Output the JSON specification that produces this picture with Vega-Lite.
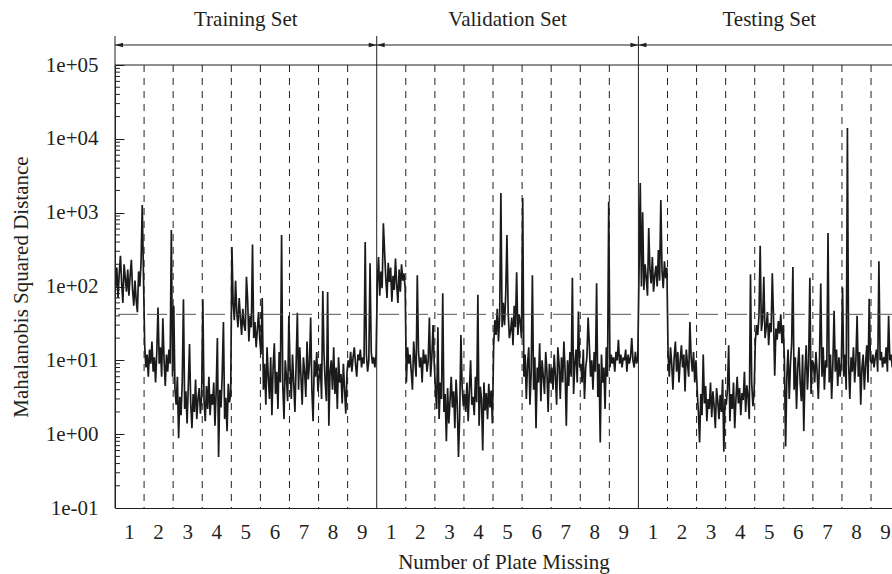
{
"$schema": "https://vega.github.io/schema/vega-lite/v6.json",
"width": 777, "height": 443,
"autosize": {"type": "none"},
"padding": {"left": 115, "top": 65, "right": 0, "bottom": 66},
"background": "white",
"config": {"view": {"stroke": null}, "font": "Liberation Serif", "axis": {"grid": false, "labelOverlap": false, "labelBound": false, "labelFlush": false}},
"datasets": {
"series": [
{"i":0,"v":95},{"i":1,"v":180},{"i":2,"v":70},{"i":3,"v":150},{"i":4,"v":260},{"i":5,"v":110},{"i":6,"v":60},{"i":7,"v":200},{"i":8,"v":130},{"i":9,"v":85},{"i":10,"v":170},{"i":11,"v":75},{"i":12,"v":140},{"i":13,"v":230},{"i":14,"v":90},{"i":15,"v":55},{"i":16,"v":120},{"i":17,"v":65},{"i":18,"v":45},{"i":19,"v":160},{"i":20,"v":100},{"i":21,"v":210},{"i":22,"v":1270},{"i":23,"v":140},
{"i":24,"v":16},{"i":25,"v":8},{"i":26,"v":12},{"i":27,"v":6},{"i":28,"v":14},{"i":29,"v":9},{"i":30,"v":18},{"i":31,"v":7},{"i":32,"v":11},{"i":33,"v":5},{"i":34,"v":13},{"i":35,"v":52},{"i":36,"v":9},{"i":37,"v":15},{"i":38,"v":6},{"i":39,"v":37},{"i":40,"v":10},{"i":41,"v":4.5},{"i":42,"v":12},{"i":43,"v":7},{"i":44,"v":14},{"i":45,"v":9},{"i":46,"v":581},{"i":47,"v":6},
{"i":48,"v":55},{"i":49,"v":4},{"i":50,"v":2.5},{"i":51,"v":6},{"i":52,"v":0.88},{"i":53,"v":3.2},{"i":54,"v":1.8},{"i":55,"v":5},{"i":56,"v":67},{"i":57,"v":2.2},{"i":58,"v":3.8},{"i":59,"v":1.4},{"i":60,"v":4.5},{"i":61,"v":16.6},{"i":62,"v":2.6},{"i":63,"v":1.2},{"i":64,"v":3.5},{"i":65,"v":2},{"i":66,"v":5.5},{"i":67,"v":1.6},{"i":68,"v":3},{"i":69,"v":4.2},{"i":70,"v":1.9},{"i":71,"v":3.3},
{"i":72,"v":67},{"i":73,"v":2.8},{"i":74,"v":1.5},{"i":75,"v":4.5},{"i":76,"v":2.2},{"i":77,"v":6},{"i":78,"v":1.8},{"i":79,"v":3.5},{"i":80,"v":2.5},{"i":81,"v":5},{"i":82,"v":1.3},{"i":83,"v":3.8},{"i":84,"v":20},{"i":85,"v":0.49},{"i":86,"v":4},{"i":87,"v":2.3},{"i":88,"v":6.5},{"i":89,"v":33},{"i":90,"v":1.6},{"i":91,"v":3.1},{"i":92,"v":1.1},{"i":93,"v":4.8},{"i":94,"v":2.7},{"i":95,"v":3.6},
{"i":96,"v":342},{"i":97,"v":60},{"i":98,"v":35},{"i":99,"v":120},{"i":100,"v":45},{"i":101,"v":28},{"i":102,"v":70},{"i":103,"v":38},{"i":104,"v":22},{"i":105,"v":50},{"i":106,"v":30},{"i":107,"v":25},{"i":108,"v":135},{"i":109,"v":65},{"i":110,"v":18},{"i":111,"v":40},{"i":112,"v":28},{"i":113,"v":370},{"i":114,"v":20},{"i":115,"v":33},{"i":116,"v":15},{"i":117,"v":26},{"i":118,"v":45},{"i":119,"v":19},
{"i":120,"v":12},{"i":121,"v":70},{"i":122,"v":4},{"i":123,"v":9},{"i":124,"v":2.5},{"i":125,"v":15},{"i":126,"v":6},{"i":127,"v":3},{"i":128,"v":11},{"i":129,"v":1.8},{"i":130,"v":8},{"i":131,"v":17},{"i":132,"v":3.5},{"i":133,"v":7},{"i":134,"v":2.2},{"i":135,"v":13},{"i":136,"v":5},{"i":137,"v":500},{"i":138,"v":4.5},{"i":139,"v":1.6},{"i":140,"v":10},{"i":141,"v":6},{"i":142,"v":2.8},{"i":143,"v":40},
{"i":144,"v":8},{"i":145,"v":3},{"i":146,"v":12},{"i":147,"v":5},{"i":148,"v":2},{"i":149,"v":9},{"i":150,"v":44},{"i":151,"v":4},{"i":152,"v":15},{"i":153,"v":6},{"i":154,"v":2.5},{"i":155,"v":11},{"i":156,"v":7},{"i":157,"v":3.2},{"i":158,"v":18},{"i":159,"v":5.5},{"i":160,"v":9},{"i":161,"v":38},{"i":162,"v":4},{"i":163,"v":1.5},{"i":164,"v":10},{"i":165,"v":6},{"i":166,"v":13},{"i":167,"v":3.8},
{"i":168,"v":6},{"i":169,"v":9},{"i":170,"v":3},{"i":171,"v":87},{"i":172,"v":12},{"i":173,"v":5},{"i":174,"v":2.8},{"i":175,"v":84},{"i":176,"v":1.3},{"i":177,"v":7},{"i":178,"v":10},{"i":179,"v":4},{"i":180,"v":15},{"i":181,"v":3.5},{"i":182,"v":8},{"i":183,"v":2.2},{"i":184,"v":11},{"i":185,"v":5},{"i":186,"v":6.5},{"i":187,"v":2.6},{"i":188,"v":9},{"i":189,"v":4},{"i":190,"v":1.9},{"i":191,"v":7},
{"i":192,"v":10},{"i":193,"v":8},{"i":194,"v":13},{"i":195,"v":7},{"i":196,"v":11},{"i":197,"v":15},{"i":198,"v":9},{"i":199,"v":6},{"i":200,"v":12},{"i":201,"v":10},{"i":202,"v":14},{"i":203,"v":8},{"i":204,"v":11},{"i":205,"v":9},{"i":206,"v":400},{"i":207,"v":12},{"i":208,"v":7},{"i":209,"v":10},{"i":210,"v":207},{"i":211,"v":13},{"i":212,"v":9},{"i":213,"v":11},{"i":214,"v":8},{"i":215,"v":12},
{"i":216,"v":110},{"i":217,"v":250},{"i":218,"v":75},{"i":219,"v":160},{"i":220,"v":95},{"i":221,"v":720},{"i":222,"v":300},{"i":223,"v":130},{"i":224,"v":70},{"i":225,"v":210},{"i":226,"v":115},{"i":227,"v":180},{"i":228,"v":62},{"i":229,"v":140},{"i":230,"v":90},{"i":231,"v":240},{"i":232,"v":105},{"i":233,"v":60},{"i":234,"v":170},{"i":235,"v":85},{"i":236,"v":200},{"i":237,"v":120},{"i":238,"v":150},{"i":239,"v":95},
{"i":240,"v":5},{"i":241,"v":15},{"i":242,"v":9},{"i":243,"v":12},{"i":244,"v":7},{"i":245,"v":4},{"i":246,"v":18},{"i":247,"v":10},{"i":248,"v":6},{"i":249,"v":142},{"i":250,"v":13},{"i":251,"v":8},{"i":252,"v":11},{"i":253,"v":5},{"i":254,"v":14},{"i":255,"v":9},{"i":256,"v":12},{"i":257,"v":7},{"i":258,"v":10},{"i":259,"v":38},{"i":260,"v":6},{"i":261,"v":11},{"i":262,"v":30},{"i":263,"v":9},
{"i":264,"v":4},{"i":265,"v":2.2},{"i":266,"v":28},{"i":267,"v":1.6},{"i":268,"v":5},{"i":269,"v":3},{"i":270,"v":81},{"i":271,"v":2},{"i":272,"v":3.5},{"i":273,"v":0.8},{"i":274,"v":4.2},{"i":275,"v":1.4},{"i":276,"v":2.8},{"i":277,"v":6},{"i":278,"v":2.3},{"i":279,"v":3.8},{"i":280,"v":1.2},{"i":281,"v":5.5},{"i":282,"v":2.6},{"i":283,"v":0.49},{"i":284,"v":1.8},{"i":285,"v":22},{"i":286,"v":4.5},{"i":287,"v":2.4},
{"i":288,"v":3.5},{"i":289,"v":2},{"i":290,"v":5},{"i":291,"v":1.5},{"i":292,"v":4},{"i":293,"v":10},{"i":294,"v":2.5},{"i":295,"v":3.2},{"i":296,"v":1.8},{"i":297,"v":6},{"i":298,"v":2.7},{"i":299,"v":77},{"i":300,"v":1.3},{"i":301,"v":4.4},{"i":302,"v":3},{"i":303,"v":0.6},{"i":304,"v":5},{"i":305,"v":2.1},{"i":306,"v":3.6},{"i":307,"v":1.6},{"i":308,"v":4.8},{"i":309,"v":2.3},{"i":310,"v":3.9},{"i":311,"v":1.4},
{"i":312,"v":15},{"i":313,"v":35},{"i":314,"v":22},{"i":315,"v":50},{"i":316,"v":18},{"i":317,"v":40},{"i":318,"v":1845},{"i":319,"v":28},{"i":320,"v":60},{"i":321,"v":30},{"i":322,"v":80},{"i":323,"v":500},{"i":324,"v":45},{"i":325,"v":20},{"i":326,"v":25},{"i":327,"v":38},{"i":328,"v":16},{"i":329,"v":55},{"i":330,"v":28},{"i":331,"v":156},{"i":332,"v":22},{"i":333,"v":42},{"i":334,"v":33},{"i":335,"v":20},
{"i":336,"v":1577},{"i":337,"v":6},{"i":338,"v":12},{"i":339,"v":3},{"i":340,"v":9},{"i":341,"v":15},{"i":342,"v":2.5},{"i":343,"v":7},{"i":344,"v":142},{"i":345,"v":4},{"i":346,"v":11},{"i":347,"v":1.2},{"i":348,"v":8},{"i":349,"v":5},{"i":350,"v":17},{"i":351,"v":2.8},{"i":352,"v":10},{"i":353,"v":6},{"i":354,"v":3.5},{"i":355,"v":13},{"i":356,"v":7},{"i":357,"v":2},{"i":358,"v":9},{"i":359,"v":5},
{"i":360,"v":8},{"i":361,"v":4},{"i":362,"v":12},{"i":363,"v":6},{"i":364,"v":2.5},{"i":365,"v":15},{"i":366,"v":9},{"i":367,"v":3},{"i":368,"v":11},{"i":369,"v":5},{"i":370,"v":18},{"i":371,"v":7},{"i":372,"v":1.3},{"i":373,"v":10},{"i":374,"v":4.5},{"i":375,"v":13},{"i":376,"v":6},{"i":377,"v":131},{"i":378,"v":3.5},{"i":379,"v":9},{"i":380,"v":14},{"i":381,"v":5},{"i":382,"v":46},{"i":383,"v":8},
{"i":384,"v":9},{"i":385,"v":5},{"i":386,"v":14},{"i":387,"v":3},{"i":388,"v":8},{"i":389,"v":11},{"i":390,"v":38},{"i":391,"v":16},{"i":392,"v":6},{"i":393,"v":10},{"i":394,"v":4},{"i":395,"v":13},{"i":396,"v":7},{"i":397,"v":111},{"i":398,"v":3.2},{"i":399,"v":9},{"i":400,"v":0.77},{"i":401,"v":12},{"i":402,"v":5},{"i":403,"v":8},{"i":404,"v":2.2},{"i":405,"v":15},{"i":406,"v":6},{"i":407,"v":1406},
{"i":408,"v":8},{"i":409,"v":12},{"i":410,"v":9},{"i":411,"v":11},{"i":412,"v":7},{"i":413,"v":13},{"i":414,"v":10},{"i":415,"v":19},{"i":416,"v":9},{"i":417,"v":12},{"i":418,"v":8},{"i":419,"v":11},{"i":420,"v":10},{"i":421,"v":14},{"i":422,"v":7},{"i":423,"v":12},{"i":424,"v":9},{"i":425,"v":11},{"i":426,"v":20},{"i":427,"v":10},{"i":428,"v":8},{"i":429,"v":13},{"i":430,"v":9},{"i":431,"v":11},
{"i":432,"v":150},{"i":433,"v":2512},{"i":434,"v":100},{"i":435,"v":1012},{"i":436,"v":90},{"i":437,"v":200},{"i":438,"v":130},{"i":439,"v":75},{"i":440,"v":618},{"i":441,"v":170},{"i":442,"v":110},{"i":443,"v":250},{"i":444,"v":85},{"i":445,"v":140},{"i":446,"v":190},{"i":447,"v":100},{"i":448,"v":311},{"i":449,"v":120},{"i":450,"v":1479},{"i":451,"v":160},{"i":452,"v":95},{"i":453,"v":220},{"i":454,"v":130},{"i":455,"v":180},
{"i":456,"v":12},{"i":457,"v":6},{"i":458,"v":15},{"i":459,"v":9},{"i":460,"v":4},{"i":461,"v":11},{"i":462,"v":18},{"i":463,"v":7},{"i":464,"v":13},{"i":465,"v":5},{"i":466,"v":10},{"i":467,"v":16},{"i":468,"v":8},{"i":469,"v":12},{"i":470,"v":3.8},{"i":471,"v":14},{"i":472,"v":9},{"i":473,"v":6},{"i":474,"v":33},{"i":475,"v":11},{"i":476,"v":7},{"i":477,"v":13},{"i":478,"v":5},{"i":479,"v":10},
{"i":480,"v":4},{"i":481,"v":2},{"i":482,"v":0.77},{"i":483,"v":3.5},{"i":484,"v":1.8},{"i":485,"v":12},{"i":486,"v":2.6},{"i":487,"v":4.5},{"i":488,"v":1.5},{"i":489,"v":3},{"i":490,"v":2.2},{"i":491,"v":5},{"i":492,"v":1.7},{"i":493,"v":3.8},{"i":494,"v":2.4},{"i":495,"v":1.2},{"i":496,"v":4.2},{"i":497,"v":2.8},{"i":498,"v":1.6},{"i":499,"v":3.4},{"i":500,"v":2},{"i":501,"v":5.5},{"i":502,"v":0.58},{"i":503,"v":3},
{"i":504,"v":2.5},{"i":505,"v":4},{"i":506,"v":16},{"i":507,"v":1.5},{"i":508,"v":3.5},{"i":509,"v":2.2},{"i":510,"v":5},{"i":511,"v":1.2},{"i":512,"v":3},{"i":513,"v":6},{"i":514,"v":2.6},{"i":515,"v":4.2},{"i":516,"v":1.8},{"i":517,"v":3.6},{"i":518,"v":2.9},{"i":519,"v":7},{"i":520,"v":2},{"i":521,"v":4.6},{"i":522,"v":3.2},{"i":523,"v":1.6},{"i":524,"v":146},{"i":525,"v":5},{"i":526,"v":2.4},{"i":527,"v":3.8},
{"i":528,"v":18},{"i":529,"v":30},{"i":530,"v":22},{"i":531,"v":40},{"i":532,"v":355},{"i":533,"v":25},{"i":534,"v":35},{"i":535,"v":135},{"i":536,"v":20},{"i":537,"v":28},{"i":538,"v":45},{"i":539,"v":16},{"i":540,"v":32},{"i":541,"v":24},{"i":542,"v":151},{"i":543,"v":38},{"i":544,"v":6.2},{"i":545,"v":27},{"i":546,"v":19},{"i":547,"v":34},{"i":548,"v":23},{"i":549,"v":42},{"i":550,"v":17},{"i":551,"v":30},
{"i":552,"v":10},{"i":553,"v":0.68},{"i":554,"v":6},{"i":555,"v":14},{"i":556,"v":3},{"i":557,"v":9},{"i":558,"v":17},{"i":559,"v":184},{"i":560,"v":4},{"i":561,"v":11},{"i":562,"v":2.2},{"i":563,"v":8},{"i":564,"v":15},{"i":565,"v":5},{"i":566,"v":2.8},{"i":567,"v":12},{"i":568,"v":1.1},{"i":569,"v":7},{"i":570,"v":16},{"i":571,"v":4},{"i":572,"v":9},{"i":573,"v":131},{"i":574,"v":3.5},{"i":575,"v":10},
{"i":576,"v":9},{"i":577,"v":5},{"i":578,"v":13},{"i":579,"v":7},{"i":580,"v":3},{"i":581,"v":11},{"i":582,"v":110},{"i":583,"v":6},{"i":584,"v":15},{"i":585,"v":4},{"i":586,"v":10},{"i":587,"v":8},{"i":588,"v":530},{"i":589,"v":5},{"i":590,"v":12},{"i":591,"v":3},{"i":592,"v":9},{"i":593,"v":47},{"i":594,"v":7},{"i":595,"v":14},{"i":596,"v":4.5},{"i":597,"v":11},{"i":598,"v":6},{"i":599,"v":9},
{"i":600,"v":97},{"i":601,"v":6},{"i":602,"v":12},{"i":603,"v":4},{"i":604,"v":14000},{"i":605,"v":9},{"i":606,"v":3},{"i":607,"v":11},{"i":608,"v":7},{"i":609,"v":15},{"i":610,"v":5},{"i":611,"v":10},{"i":612,"v":40},{"i":613,"v":6},{"i":614,"v":13},{"i":615,"v":2.5},{"i":616,"v":8},{"i":617,"v":12},{"i":618,"v":4},{"i":619,"v":9},{"i":620,"v":16},{"i":621,"v":5},{"i":622,"v":68},{"i":623,"v":10},
{"i":624,"v":9},{"i":625,"v":12},{"i":626,"v":8},{"i":627,"v":11},{"i":628,"v":14},{"i":629,"v":7},{"i":630,"v":220},{"i":631,"v":10},{"i":632,"v":13},{"i":633,"v":8},{"i":634,"v":11},{"i":635,"v":9},{"i":636,"v":15},{"i":637,"v":7},{"i":638,"v":40},{"i":639,"v":10},{"i":640,"v":12},{"i":641,"v":8},{"i":642,"v":11},{"i":643,"v":9},{"i":644,"v":13},{"i":645,"v":10},{"i":646,"v":8},{"i":647,"v":12}
],
"bounds": [{"b":23.5},{"b":47.5},{"b":71.5},{"b":95.5},{"b":119.5},{"b":143.5},{"b":167.5},{"b":191.5},{"b":239.5},{"b":263.5},{"b":287.5},{"b":311.5},{"b":335.5},{"b":359.5},{"b":383.5},{"b":407.5},{"b":455.5},{"b":479.5},{"b":503.5},{"b":527.5},{"b":551.5},{"b":575.5},{"b":599.5},{"b":623.5}],
"xlabels": [{"p":11.5,"l":"1"},{"p":35.5,"l":"2"},{"p":59.5,"l":"3"},{"p":83.5,"l":"4"},{"p":107.5,"l":"5"},{"p":131.5,"l":"6"},{"p":155.5,"l":"7"},{"p":179.5,"l":"8"},{"p":203.5,"l":"9"},{"p":227.5,"l":"1"},{"p":251.5,"l":"2"},{"p":275.5,"l":"3"},{"p":299.5,"l":"4"},{"p":323.5,"l":"5"},{"p":347.5,"l":"6"},{"p":371.5,"l":"7"},{"p":395.5,"l":"8"},{"p":419.5,"l":"9"},{"p":443.5,"l":"1"},{"p":467.5,"l":"2"},{"p":491.5,"l":"3"},{"p":515.5,"l":"4"},{"p":539.5,"l":"5"},{"p":563.5,"l":"6"},{"p":587.5,"l":"7"},{"p":611.5,"l":"8"},{"p":635.5,"l":"9"}],
"sets": [
{"set":"Training Set","start":-0.5,"end":215.5,"mid":107.5},
{"set":"Validation Set","start":215.5,"end":431.5,"mid":323.5},
{"set":"Testing Set","start":431.5,"end":647.5,"mid":539.5}
],
"minor": [{"m":0.2},{"m":0.3},{"m":0.4},{"m":0.5},{"m":0.6},{"m":0.7},{"m":0.8},{"m":0.9},{"m":2},{"m":3},{"m":4},{"m":5},{"m":6},{"m":7},{"m":8},{"m":9},{"m":20},{"m":30},{"m":40},{"m":50},{"m":60},{"m":70},{"m":80},{"m":90},{"m":200},{"m":300},{"m":400},{"m":500},{"m":600},{"m":700},{"m":800},{"m":900},{"m":2000},{"m":3000},{"m":4000},{"m":5000},{"m":6000},{"m":7000},{"m":8000},{"m":9000},{"m":20000},{"m":30000},{"m":40000},{"m":50000},{"m":60000},{"m":70000},{"m":80000},{"m":90000}],
"threshold": [{"t": 42}]
},
"layer": [
{
"data": {"name": "series"},
"mark": {"type": "line", "color": "#1a1a1a", "strokeWidth": 1.7, "clip": true},
"encoding": {
"x": {"field": "i", "type": "quantitative",
"scale": {"domain": [-0.5, 640.8], "nice": false, "zero": false},
"axis": {"labels": false, "ticks": false,
"domainColor": "#231f20", "domainWidth": 1,
"title": "Number of Plate Missing", "titleFont": "Liberation Serif", "titleFontSize": 21, "titleFontWeight": "normal", "titleColor": "#231f20", "titlePadding": 43}},
"y": {"field": "v", "type": "quantitative",
"scale": {"type": "log", "domain": [0.1, 100000], "nice": false},
"axis": {
"values": [0.1,1,10,100,1000,10000,100000],
"labelExpr": "round(log(datum.value)/LN10) < 0 ? '1e-0' + (-round(log(datum.value)/LN10)) : '1e+0' + round(log(datum.value)/LN10)",
"tickSize": -9,
"tickColor": "#231f20", "domainColor": "#231f20",
"labelPadding": 26, "labelOverlap": false, "labelFont": "Liberation Serif", "labelFontSize": 21, "labelColor": "#231f20",
"title": "Mahalanobis Squared Distance", "titleFont": "Liberation Serif", "titleFontSize": 21, "titleFontWeight": "normal", "titleColor": "#231f20", "titlePadding": 14
}
}
}
},
{
"data": {"name": "bounds"},
"mark": {"type": "rule", "strokeDash": [7, 6], "color": "#231f20", "strokeWidth": 1},
"encoding": {"x": {"field": "b", "type": "quantitative"}}
},
{
"data": {"name": "minor"},
"mark": {"type": "rule", "color": "#231f20", "strokeWidth": 1},
"encoding": {
"y": {"field": "m", "type": "quantitative"},
"x": {"datum": -0.5, "type": "quantitative"},
"x2": {"datum": 3.6}
}
},
{
"data": {"name": "threshold"},
"mark": {"type": "rule", "strokeDash": [20, 9], "color": "#555555", "strokeWidth": 1},
"encoding": {"y": {"field": "t", "type": "quantitative"}}
},
{
"data": {"values": [{}]},
"mark": {"type": "rule", "color": "#231f20", "strokeWidth": 1},
"encoding": {"y": {"datum": 100000, "type": "quantitative"}}
},
{
"data": {"name": "sets"},
"mark": {"type": "rule", "color": "#231f20", "strokeWidth": 1},
"encoding": {
"x": {"field": "start", "type": "quantitative"},
"y": {"datum": 0.1, "type": "quantitative"},
"y2": {"datum": 247000}
}
},
{
"data": {"name": "sets"},
"mark": {"type": "rule", "color": "#231f20", "strokeWidth": 1},
"encoding": {
"x": {"field": "start", "type": "quantitative"},
"x2": {"field": "end"},
"y": {"datum": 186600, "type": "quantitative"}
}
},
{
"data": {"name": "sets"},
"mark": {"type": "point", "shape": "M -1 0 L 1 -0.55 L 1 0.55 Z", "filled": true, "size": 64, "color": "#231f20", "opacity": 1, "xOffset": 4},
"encoding": {
"x": {"field": "start", "type": "quantitative"},
"y": {"datum": 186600, "type": "quantitative"}
}
},
{
"data": {"name": "sets"},
"mark": {"type": "point", "shape": "M 1 0 L -1 -0.55 L -1 0.55 Z", "filled": true, "size": 64, "color": "#231f20", "opacity": 1, "xOffset": -4},
"encoding": {
"x": {"field": "end", "type": "quantitative"},
"y": {"datum": 186600, "type": "quantitative"}
}
},
{
"data": {"name": "sets"},
"mark": {"type": "text", "font": "Liberation Serif", "fontSize": 21, "color": "#231f20", "baseline": "alphabetic", "align": "center"},
"encoding": {
"x": {"field": "mid", "type": "quantitative"},
"y": {"datum": 337000, "type": "quantitative"},
"text": {"field": "set"}
}
},
{
"data": {"name": "xlabels"},
"mark": {"type": "text", "font": "Liberation Serif", "fontSize": 21, "color": "#231f20", "baseline": "middle", "align": "center"},
"encoding": {
"x": {"field": "p", "type": "quantitative"},
"y": {"datum": 0.0459, "type": "quantitative"},
"text": {"field": "l"}
}
}
]
}
